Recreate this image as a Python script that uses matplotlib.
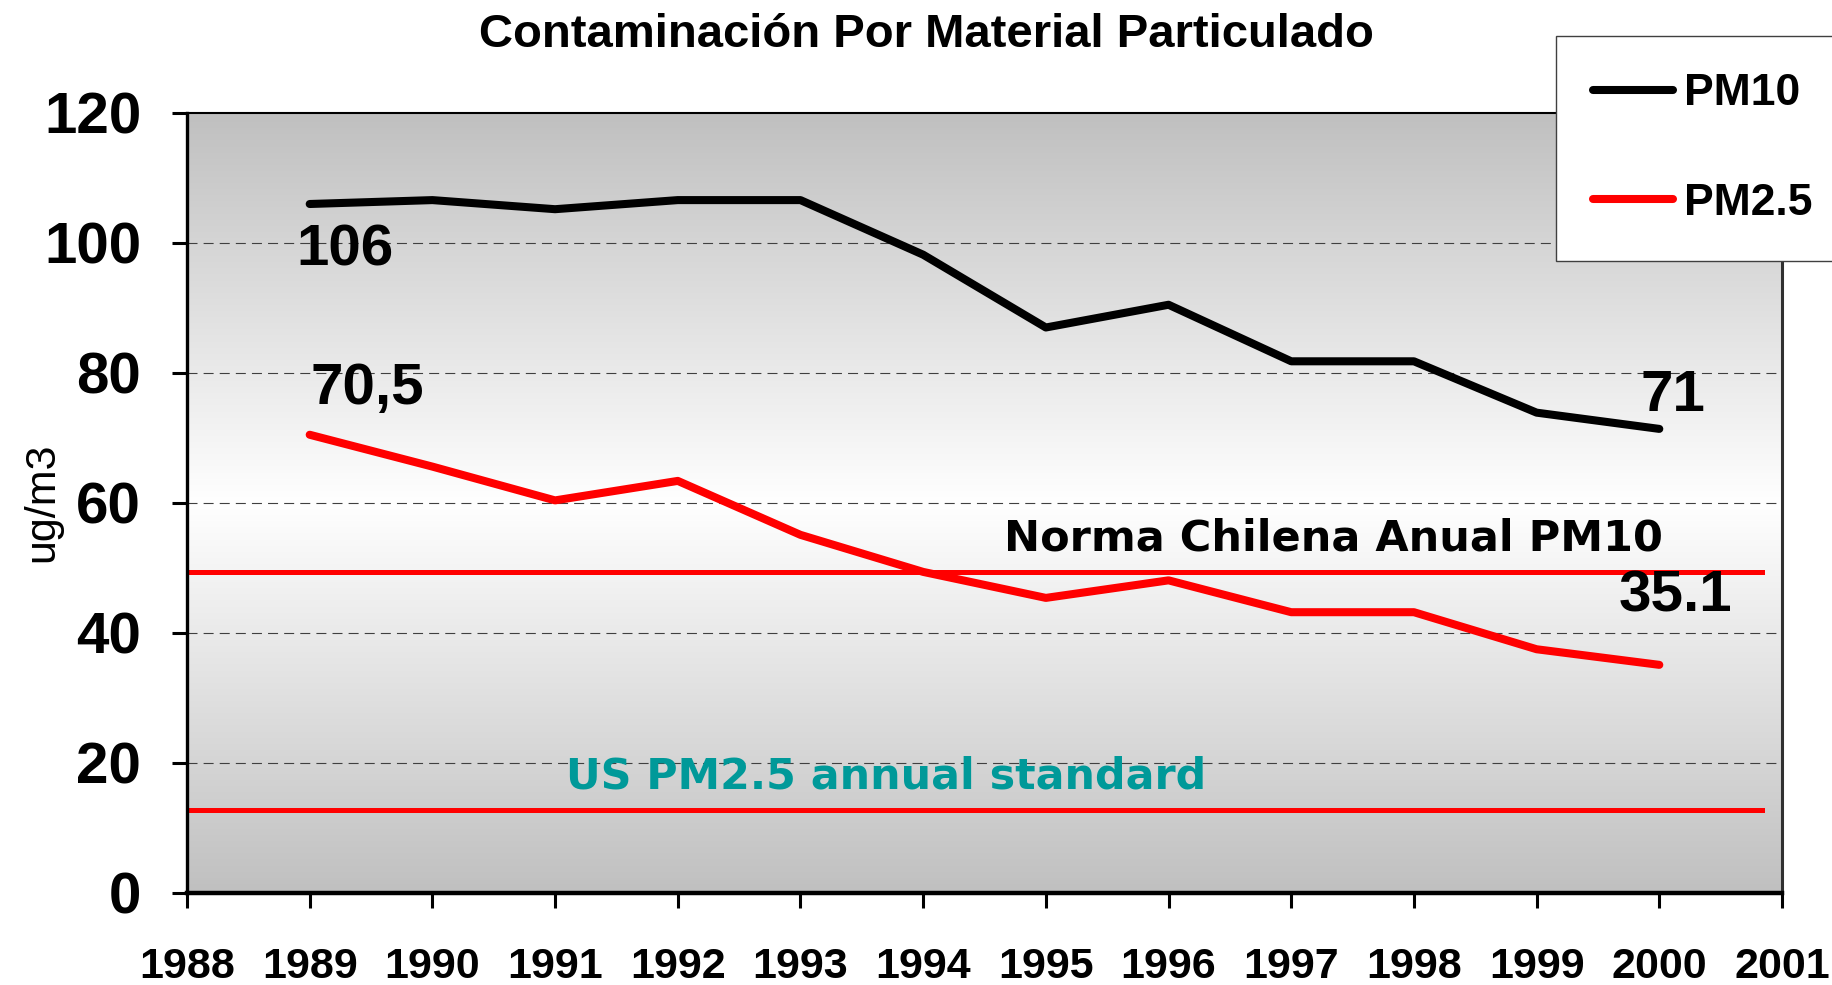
import numpy as np
import matplotlib
matplotlib.use("Agg")
import matplotlib.pyplot as plt
from matplotlib.colors import LinearSegmentedColormap

years = [1989, 1990, 1991, 1992, 1993, 1994, 1995, 1996, 1997, 1998, 1999, 2000]
pm10 = [106, 106.6, 105.2, 106.6, 106.6, 98.2, 87.0, 90.5, 81.8, 81.8, 73.9, 71.4]
pm25 = [70.5, 65.6, 60.4, 63.4, 55.1, 49.4, 45.4, 48.1, 43.2, 43.2, 37.5, 35.1]
norma_chilena = 49.4
us_standard = 12.8
std_x = [1988, 2000.84]

plt.rcParams["font.family"] = "Liberation Sans"
plt.rcParams["font.weight"] = "bold"

fig = plt.figure(figsize=(18.32, 9.85), dpi=100)
ax = fig.add_axes([187/1832, 92/985, 1595/1832, 780/985])

# grey -> white -> grey background like the excel plot area
cmap = LinearSegmentedColormap.from_list("bg", ["#c0c0c0", "#ffffff", "#c0c0c0"])
grad = np.linspace(0, 1, 256).reshape(-1, 1)
ax.imshow(grad, extent=[1988, 2001, 0, 120], aspect="auto", cmap=cmap, zorder=0)

for y in range(20, 120, 20):
    ax.axhline(y, color="#404040", lw=0.8, ls=(0, (9, 5.5)), zorder=1)

ax.plot(std_x, [norma_chilena] * 2, color="red", lw=3.6, zorder=2)
ax.plot(std_x, [us_standard] * 2, color="red", lw=3.6, zorder=2)

ax.plot(years, pm10, color="black", lw=5.8, solid_capstyle="round", label="PM10", zorder=3)
ax.plot(years, pm25, color="red", lw=5.8, solid_capstyle="round", label="PM2.5", zorder=3)

lbl = dict(fontsize=42, fontweight="bold", ha="center", va="center")
ax.text(1989.29, 98.8, "106", **lbl)
ax.text(1989.47, 77.5, "70,5", **lbl)
ax.text(2000.11, 76.4, "71", **lbl)
ax.text(2000.13, 45.6, "35.1", **lbl)

ax.text(1997.34, 54.5, "Norma Chilena Anual PM10", fontsize=31, fontweight="bold",
        family="DejaVu Sans", ha="center", va="center")
ax.text(1993.70, 17.85, "US PM2.5 annual standard", fontsize=30.8, fontweight="bold",
        family="DejaVu Sans", color="#009999", ha="center", va="center")

ax.set_xlim(1988, 2001)
ax.set_ylim(0, 120)
ax.set_xticks(range(1988, 2002))
ax.set_yticks(range(0, 121, 20))
ax.tick_params(axis="x", direction="out", length=11, width=2.2, pad=28, labelsize=31)
ax.tick_params(axis="y", direction="out", length=11, width=2.2, pad=22, labelsize=42)

ax.spines["left"].set_linewidth(2.4)
ax.spines["bottom"].set_linewidth(3.2)
ax.spines["top"].set_linewidth(1.5)
ax.spines["right"].set_linewidth(2.2)
ax.spines["right"].set_color("#303030")

ax.set_ylabel("ug/m3", fontsize=31, fontweight="normal")
ax.yaxis.set_label_coords(-0.0784, 0.501)

fig.text(926/1832, 1 - 35/985, "Contaminación Por Material Particulado", fontsize=34,
         fontweight="bold", ha="center", va="center")

leg = ax.legend(loc="upper left", bbox_to_anchor=(1556/1832, 1 - 36/985),
                bbox_transform=fig.transFigure, borderaxespad=0, fontsize=32,
                borderpad=0.84, labelspacing=1.54, handlelength=1.8, handletextpad=0.23,
                fancybox=False, framealpha=1, edgecolor="#404040")
leg.get_frame().set_linewidth(1.0)
leg.set_zorder(10)

fig.savefig("out.png", dpi=100)
